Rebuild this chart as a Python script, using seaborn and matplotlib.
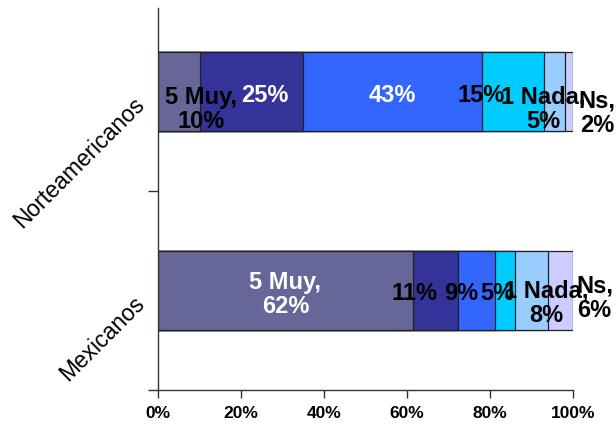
import matplotlib
matplotlib.use("Agg")
import matplotlib.pyplot as plt
import seaborn as sns
import pandas as pd
import numpy as np

# data
groups = ["Norteamericanos", "Mexicanos"]
answers = ["5 Muy", "4", "3", "2", "1 Nada", "Ns"]
answer_names = ["5 Muy", "", "", "", "1 Nada", "Ns"]
norte_values = [10, 25, 43, 15, 5, 2]
mex_values = [62, 11, 9, 5, 8, 6]
tick_labels = ["0%", "20%", "40%", "60%", "80%", "100%"]

# styles
seg_colors = ["#666699", "#333399", "#3366FF", "#00CCFF", "#99CCFF", "#CCCCFF"]
label_colors = {
    "Norteamericanos": ["black", "white", "white", "black", "black", "black"],
    "Mexicanos": ["white", "black", "black", "black", "black", "black"],
}
# label nudges in pixels (Excel moved the labels around)
label_dx = {"Norteamericanos": [22, 13, 0, -32, -11, 28],
            "Mexicanos": [0, -21, -15, -8, 14, 34]}
label_dy = {"Norteamericanos": [17, 3, 3, 3, 17, 21],
            "Mexicanos": [3, 2, 2, 2, 12, 7]}

dpi = 100
rows = []
for g, vals in zip(groups, [norte_values, mex_values]):
    total = sum(vals)
    cum = 0
    for a, name, v in zip(answers, answer_names, vals):
        share = v / total
        rows.append({"group": g, "answer": a, "name": name, "value": v,
                     "left": cum, "right": cum + share})
        cum += share
df = pd.DataFrame(rows)

fig = plt.figure(figsize=(6.16, 4.27), dpi=dpi)
ax = fig.add_axes([158 / 616, 1 - 391 / 427, (573 - 158) / 616, (391 - 9) / 427])

# stacked bars: draw cumulative ends from the last answer back to the first
for i in range(len(answers) - 1, -1, -1):
    sub = df[df["answer"] == answers[i]]
    sns.barplot(data=sub, x="right", y="group", order=groups, orient="h",
                color=seg_colors[i], width=0.4, edgecolor="#222222",
                linewidth=0.9, saturation=1, ax=ax)

ax.set_xlim(0, 1)
ax.set_ylim(1.5, -0.42)
ax.set_xlabel("")
ax.set_ylabel("")

for spine in ["top", "right"]:
    ax.spines[spine].set_visible(False)
for spine in ["left", "bottom"]:
    ax.spines[spine].set_color("#333333")
    ax.spines[spine].set_linewidth(1)

ax.set_xticks(np.linspace(0, 1, 6))
ax.set_xticklabels(tick_labels, fontsize=12.5, fontweight="bold",
                   family="Liberation Sans")
ax.tick_params(axis="x", length=6, width=1, color="#333333", pad=5)

ax.set_yticks([0.5, 1.5])
ax.set_yticklabels([])
ax.tick_params(axis="y", length=7, width=1, color="#333333")

for yi, g in enumerate(groups):
    ax.text(-0.04, yi + 0.04, g, rotation=45, ha="right", va="center",
            rotation_mode="anchor", fontsize=16.5, family="Liberation Sans",
            transform=ax.transData, clip_on=False)

for yi, g in enumerate(groups):
    sub = df[df["group"] == g].reset_index(drop=True)
    for i, r in sub.iterrows():
        txt = f"{r['name']},\n{r['value']}%" if r["name"] else f"{r['value']}%"
        cx = (r["left"] + r["right"]) / 2
        ax.annotate(txt, xy=(cx, yi),
                    xytext=(label_dx[g][i] * 72 / dpi, -label_dy[g][i] * 72 / dpi),
                    textcoords="offset points", ha="center", va="center",
                    fontsize=17, fontweight="bold", family="Liberation Sans",
                    color=label_colors[g][i], linespacing=1.1,
                    annotation_clip=False)

fig.savefig("out.png", dpi=dpi)
